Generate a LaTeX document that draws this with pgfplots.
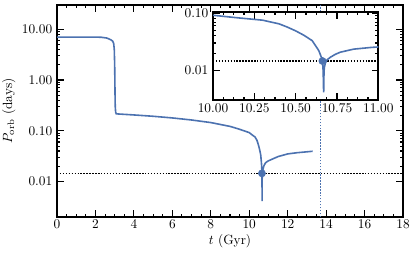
\documentclass[border=0pt]{standalone}
\usepackage{pgfplots}
\pgfplotsset{compat=1.18}
\definecolor{sblue}{RGB}{76,114,176}
\begin{document}
\begin{tikzpicture}
\pgfplotsset{
  every axis/.append style={
    axis line style={line width=1.3pt},
    tick style={black, line width=0.8pt},
    tick align=inside,
    major tick length=5pt,
    minor tick length=2.6pt,
  }
}
\tikzset{mydot/.style={dash pattern=on 1.1pt off 1.1pt, line width=1.1pt}}
\begin{axis}[
  name=main,
  scale only axis,
  width=259.5pt, height=159pt,
  ymode=log,
  xmin=0, xmax=18,
  ymin=0.002, ymax=30,
  xtick={0,2,...,18},
  minor x tick num=3,
  ytick={0.01,0.1,1,10},
  yticklabels={0.01,0.10,1.00,10.00},
  xlabel={$t$ (Gyr)},
  ylabel={$P_{\rm orb}$ (days)},
  xlabel style={yshift=3pt},
  ylabel style={yshift=-2pt},
  x tick label style={yshift=1pt},
  clip=true,
]
\addplot[black, mydot] coordinates {(0,0.0145) (18,0.0145)};
\addplot[sblue, mydot] coordinates {(13.7,0.002) (13.7,30)};
\addplot[sblue, line width=1.2pt] coordinates {
(0,7.0) (1,7.0) (2,7.0) (2.3,6.95) (2.6,6.7) (2.8,6.2) (2.9,5.8) (2.95,5.2) (2.98,4.0)
(3.0,2.0) (3.01,1.0) (3.02,0.5) (3.03,0.3) (3.05,0.235) (3.08,0.216) (3.2,0.214)
(4,0.205) (5,0.193) (6,0.179) (7,0.163) (8,0.145) (9,0.122) (9.5,0.107) (10.0,0.092)
(10.15,0.083) (10.3,0.0755) (10.4,0.065) (10.45,0.057) (10.5,0.049) (10.55,0.041)
(10.6,0.033) (10.62,0.027) (10.64,0.022) (10.655,0.017) (10.662,0.0145) (10.666,0.010)
(10.668,0.006) (10.669,0.0041)
(10.670,0.0045) (10.671,0.008) (10.673,0.011) (10.68,0.0135) (10.69,0.0152)
(10.71,0.0169) (10.74,0.019) (10.77,0.0207) (10.85,0.0234) (10.95,0.0250) (11.0,0.0256)
(11.5,0.031) (12.0,0.035) (12.5,0.037) (13.0,0.0385) (13.3,0.0395)
};
\addplot[sblue, only marks, mark=*, mark size=2.7pt] coordinates {(10.662,0.0145)};
\end{axis}
\begin{axis}[
  at={(117pt,87.75pt)}, anchor=south west,
  scale only axis,
  width=124pt, height=66pt,
  axis background/.style={fill=white},
  ymode=log,
  xmin=10, xmax=11,
  ymin=0.003, ymax=0.105,
  xtick={10,10.25,10.5,10.75,11},
  xticklabels={10.00,10.25,10.50,10.75,11.00},
  minor x tick num=3,
  ytick={0.01,0.1},
  yticklabels={0.01,0.10},
  x tick label style={yshift=1pt},
  clip=true,
]
\addplot[black, mydot] coordinates {(10,0.0145) (11,0.0145)};
\addplot[sblue, line width=1.2pt] coordinates {
(9.5,0.107) (10.0,0.092)
(10.15,0.083) (10.3,0.0755) (10.4,0.065) (10.45,0.057) (10.5,0.049) (10.55,0.041)
(10.6,0.033) (10.62,0.027) (10.64,0.022) (10.655,0.017) (10.662,0.0145) (10.666,0.010)
(10.668,0.006) (10.669,0.0041)
(10.670,0.0045) (10.671,0.008) (10.673,0.011) (10.68,0.0135) (10.69,0.0152)
(10.71,0.0169) (10.74,0.019) (10.77,0.0207) (10.85,0.0234) (10.95,0.0250) (11.0,0.0256)
(11.5,0.031)
};
\addplot[sblue, only marks, mark=*, mark size=2.7pt] coordinates {(10.662,0.0145)};
\end{axis}
\pgfresetboundingbox
\path[use as bounding box] (-42.75pt,-28.5pt) rectangle (269.25pt,162.75pt);
\end{tikzpicture}
\end{document}
